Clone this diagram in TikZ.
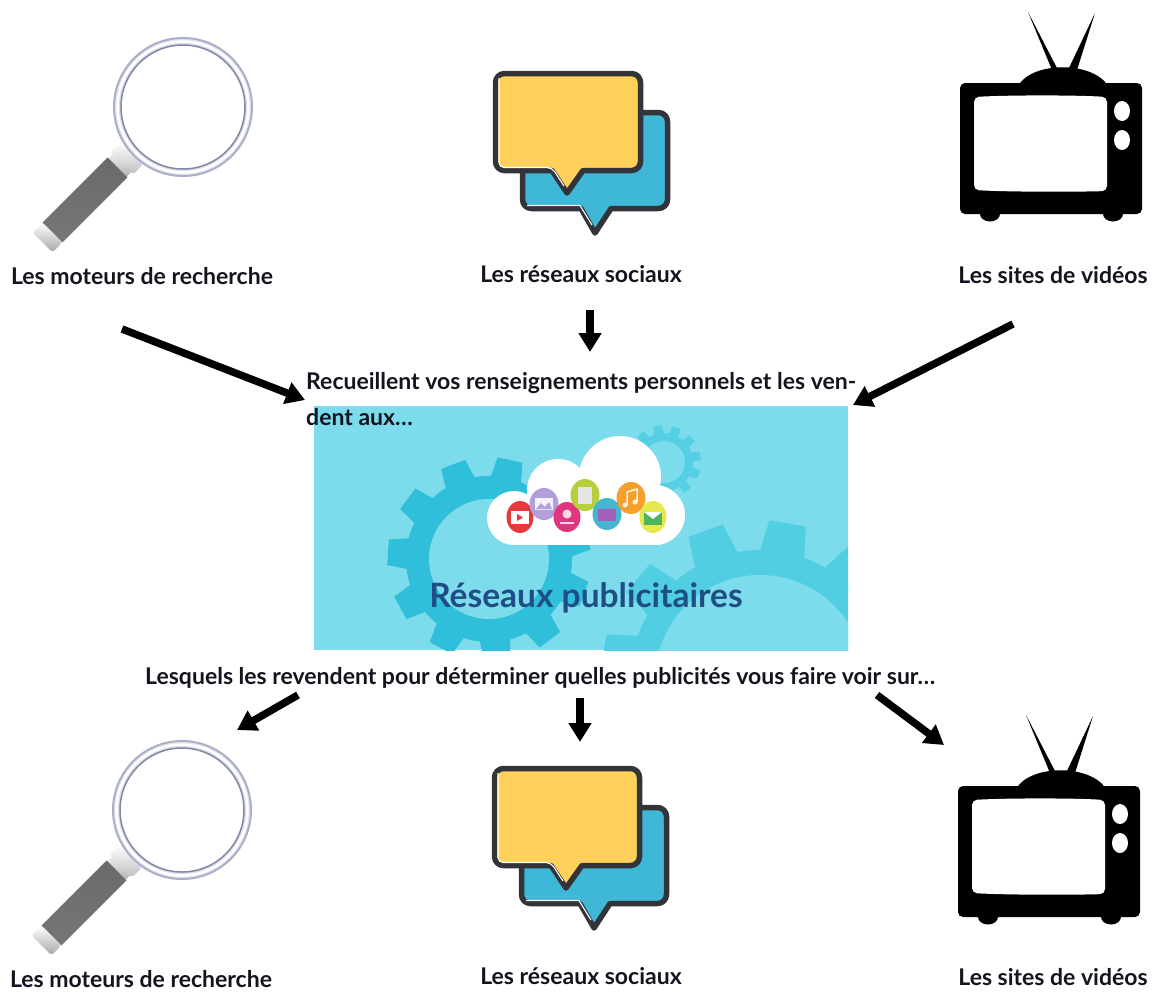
\documentclass[tikz,border=0pt]{standalone}
\usepackage{fontspec}
\setmainfont{Lato}
\usetikzlibrary{arrows.meta}
\definecolor{inkc}{HTML}{14141E}
\definecolor{panelc}{HTML}{7CDCEB}
\definecolor{gearA}{HTML}{2FBFDA}
\definecolor{gearB}{HTML}{52CEE3}
\definecolor{gearC}{HTML}{55CFE4}
\definecolor{titlec}{HTML}{1F4E86}
\definecolor{bubY}{HTML}{FFD05A}
\definecolor{bubB}{HTML}{3FB8D8}
\definecolor{bubK}{HTML}{33343A}
\definecolor{ringA}{HTML}{A9ADC6}
\definecolor{ringB}{HTML}{DDE0EC}
\definecolor{ringC}{HTML}{8287A6}
\definecolor{bRed}{HTML}{E6393C}
\definecolor{bPur}{HTML}{B39FDC}
\definecolor{bPink}{HTML}{E0367F}
\definecolor{bLime}{HTML}{B7CF3C}
\definecolor{bTeal}{HTML}{45B5D0}
\definecolor{bOra}{HTML}{F5A02C}
\definecolor{bYel}{HTML}{E6E84C}
\definecolor{bFold}{HTML}{A25FBB}
\definecolor{bEnv}{HTML}{4FB55C}
\definecolor{hanA}{HTML}{6A6A6A}
\definecolor{hanB}{HTML}{A8A8A8}
\definecolor{hanC}{HTML}{767676}
\tikzset{
  x=1pt,y=-1pt,
  lbl/.style={font=\bfseries\fontsize{23}{26}\selectfont,text=inkc,inner sep=0pt,anchor=base},
  para/.style={font=\bfseries\fontsize{23}{26}\selectfont,text=inkc,inner sep=0pt,anchor=base west},
  bigarrow/.style={line width=7.5pt,draw=black,-{Triangle[length=19pt,width=22pt]}},
  bubline/.style={draw=bubK,line width=5.5pt,line join=round},
  lens/.pic={
    \begin{scope}[shift={(85,200)},rotate=45]
      \shade[top color=white,bottom color=black!30] (46,13) rectangle (62,-13);
      \shade[top color=white,bottom color=black!25,rounded corners=3pt] (52,16) rectangle (66,-16);
      \shade[top color=hanA,middle color=hanB,bottom color=hanC] (-46,14) rectangle (46,-14);
      \shade[top color=white,bottom color=black!35,rounded corners=3pt] (-60,14) rectangle (-46,-14);
    \end{scope}
    \fill[ringB] (183,107) circle[radius=70];
    \draw[ringA,line width=1.8pt] (183,107) circle[radius=69];
    \draw[white,line width=2.5pt] (183,107) circle[radius=65.5];
    \draw[ringC,line width=1.5pt,fill=white] (183,107) circle[radius=62];
  },
  chat/.pic={
    \draw[bubline,fill=bubB] (581,208.5) [rounded corners=9pt] -- (522.5,208.5) -- (522.5,112.5) -- (667.5,112.5) -- (667.5,208.5)
      [sharp corners] -- (611,208.5) -- (595,233) -- cycle;
    \draw[white,line width=1.1pt] (527,205.5) -- (580,205.5) -- (592,225);
    \draw[bubline,fill=bubY] (552,170.5) [rounded corners=9pt] -- (495.5,170.5) -- (495.5,73.5) -- (640.5,73.5) -- (640.5,170.5)
      [sharp corners] -- (583,170.5) -- (567,193) -- cycle;
    \draw[white,line width=1.1pt,rounded corners=5pt] (499,78) -- (499,167.5) -- (552,167.5) -- (564,186);
  },
  telly/.pic={
    \fill[black] (1028,12) -- (1052,70) -- (1058,70) -- cycle;
    \fill[black] (1095,13) -- (1068,70) -- (1077,70) -- cycle;
    \fill[black] (1018,86) .. controls (1032,61) and (1093,61) .. (1108,86) -- cycle;
    \fill[black,rounded corners=5pt] (960,83) rectangle (1142,214);
    \fill[black] (990,214) ellipse[x radius=10,y radius=7.5];
    \fill[black] (1113,214) ellipse[x radius=10,y radius=7.5];
    \fill[white,rounded corners=5pt] (974,97) .. controls (1010,95) and (1075,95) .. (1107,97)
      -- (1107,191) .. controls (1075,192) and (1010,192) .. (974,190) -- cycle;
    \fill[white] (1122,111) ellipse[x radius=8,y radius=10];
    \fill[white] (1122,140) ellipse[x radius=8,y radius=10];
  },
}
\newcommand{\gearshape}[8]{% cx cy root tip inner colour count phase
  \fill[#6] (#1,#2) circle[radius=#3];
  \pgfmathsetmacro{\gstep}{360/#7}
  \pgfmathtruncatemacro{\gcount}{#7-1}
  \pgfmathsetmacro{\gwa}{0.34*\gstep}
  \pgfmathsetmacro{\gwb}{0.22*\gstep}
  \foreach \gi in {0,...,\gcount}{
    \pgfmathsetmacro{\ga}{#8+\gi*\gstep}
    \fill[#6] ({#1+(#3-2)*cos(\ga-\gwa)},{#2-(#3-2)*sin(\ga-\gwa)})
      -- ({#1+#4*cos(\ga-\gwb)},{#2-#4*sin(\ga-\gwb)})
      -- ({#1+#4*cos(\ga+\gwb)},{#2-#4*sin(\ga+\gwb)})
      -- ({#1+(#3-2)*cos(\ga+\gwa)},{#2-(#3-2)*sin(\ga+\gwa)}) -- cycle;
  }
  \fill[panelc] (#1,#2) circle[radius=#5];
}
\begin{document}
\begin{tikzpicture}
\useasboundingbox (0,0) rectangle (1154,994);
% top icons
\pic at (0,0) {lens};
\pic at (0,0) {chat};
\pic at (0,0) {telly};
% bottom icons
\pic at (-1,703) {lens};
\pic at (-1,695) {chat};
\pic at (-2,703) {telly};
% central panel
\fill[panelc] (314,406) rectangle (848,650);
\begin{scope}
  \clip (314,406) rectangle (848,650);
  \gearshape{664}{462}{29}{37}{21}{gearC}{12}{10}
  \gearshape{760}{680}{130}{160}{105}{gearB}{12}{80}
  \gearshape{489}{559}{83}{102}{60}{gearA}{11}{78}
\end{scope}
% cloud
\fill[white] (620,477) circle[radius=41];
\fill[white] (558,490) circle[radius=31];
\fill[white] (514,518) circle[radius=27];
\fill[white] (655,515) circle[radius=30];
\fill[white] (514,500) rectangle (660,545);
% app badges
\fill[bRed] (520,517) ellipse[x radius=13.5,y radius=16];
\fill[white] (511,511) rectangle (529,524);
\fill[bRed] (517,514) -- (523,517.5) -- (517,521) -- cycle;
\fill[bPur] (544,504) ellipse[x radius=14.5,y radius=16];
\fill[white!85!bPur] (535,498) rectangle (553,510);
\fill[bPur] (536,509) -- (541,503) -- (545,507) -- (549,502) -- (552,509) -- cycle;
\fill[bPink] (567,517) ellipse[x radius=13.5,y radius=15];
\fill[white!80!bPink] (567,514) circle[radius=4.5];
\fill[white!80!bPink] (560,522) rectangle (574,524);
\fill[bLime] (585,495) ellipse[x radius=14.5,y radius=16];
\fill[black!10] (578,487) rectangle (592,504);
\fill[bTeal] (607,514) ellipse[x radius=14.5,y radius=16];
\fill[bFold] (598,509) rectangle (616,521);
\fill[bOra] (631,498) ellipse[x radius=14.5,y radius=16];
\draw[white!85!bOra,line width=1.5pt] (627,505) -- (627,492) -- (637,489) -- (637,502);
\fill[white!85!bOra] (625,505) circle[radius=2.5];
\fill[white!85!bOra] (635,502) circle[radius=2.5];
\fill[bYel] (653,517) ellipse[x radius=13.5,y radius=16];
\fill[bEnv] (644,512) rectangle (662,525);
\fill[white] (644,512) -- (662,512) -- (653,519) -- cycle;
% texts
\node[lbl] (t1) at (142,284) {Les moteurs de recherche};
\node[lbl] (t2) at (581,282) {Les réseaux sociaux};
\node[lbl] (t3) at (1053,283) {Les sites de vidéos};
\node[para] (mid1) at (306,389) {Recueillent vos renseignements personnels et les ven-};
\node[para] (mid2) at (306,425) {dent aux…};
\node[anchor=base,inner sep=0pt,font=\bfseries\fontsize{33.5}{36}\selectfont,text=titlec] (title) at (586,607) {Réseaux publicitaires};
\node[para] (mid3) at (145,684) {Lesquels les revendent pour déterminer quelles publicités vous faire voir sur…};
\node[lbl] (b1) at (141,987) {Les moteurs de recherche};
\node[lbl] (b2) at (581,984) {Les réseaux sociaux};
\node[lbl] (b3) at (1053,985) {Les sites de vidéos};
% arrow ends
\coordinate (a1s) at (122,329); \coordinate (a1e) at (305,400);
\coordinate (a2s) at (590,310); \coordinate (a2e) at (590,352);
\coordinate (a3s) at (1013,324); \coordinate (a3e) at (853,405);
\coordinate (a4s) at (298,695); \coordinate (a4e) at (237,730);
\coordinate (a5s) at (580,698); \coordinate (a5e) at (580,742);
\coordinate (a6s) at (877,695); \coordinate (a6e) at (944,745);
\draw[bigarrow] (a1s) -- (a1e);
\draw[bigarrow] (a2s) -- (a2e);
\draw[bigarrow] (a3s) -- (a3e);
\draw[bigarrow] (a4s) -- (a4e);
\draw[bigarrow] (a5s) -- (a5e);
\draw[bigarrow] (a6s) -- (a6e);
\end{tikzpicture}
\end{document}
